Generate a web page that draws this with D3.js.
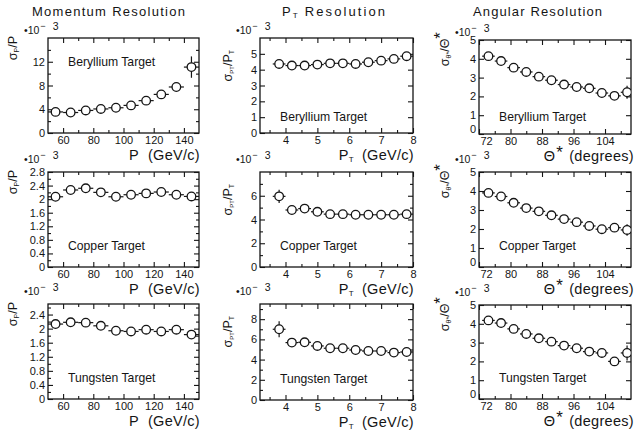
<!DOCTYPE html>
<html>
<head>
<meta charset="utf-8">
<script src="https://cdn.jsdelivr.net/npm/d3@7"></script>
<style>
  body { margin: 0; background: #fff; }
  svg { font-family: "Liberation Sans", Arial, sans-serif; }
</style>
</head>
<body>
<svg id="chart" width="640" height="433"></svg>
<script>
// bin centres
const momentumBins = [55, 65, 75, 85, 95, 105, 115, 125, 135, 145];
const ptBins = [3.8, 4.2, 4.6, 5.0, 5.4, 5.8, 6.2, 6.6, 7.0, 7.4, 7.8];
const angleBins = [74.4, 77.6, 80.8, 84.0, 87.2, 90.4, 93.6, 96.8, 100.0, 103.2, 106.4, 109.6];

// resolutions (x 10^-3) and vertical errors
const momentumBe = [3.55, 3.45, 3.8, 4.05, 4.25, 4.65, 5.45, 6.5, 7.75, 11.1];
const momentumBeErr = [0.3, 0.3, 0.3, 0.3, 0.3, 0.35, 0.4, 0.5, 0.6, 1.8];
const momentumCu = [2.07, 2.27, 2.32, 2.2, 2.07, 2.13, 2.17, 2.21, 2.13, 2.08];
const momentumCuErr = [0.04, 0.04, 0.04, 0.04, 0.04, 0.04, 0.04, 0.04, 0.04, 0.04];
const momentumW = [2.13, 2.18, 2.17, 2.08, 1.94, 1.92, 1.97, 1.92, 1.97, 1.83];
const momentumWErr = [0.04, 0.04, 0.04, 0.04, 0.04, 0.04, 0.04, 0.04, 0.04, 0.05];

const ptBe = [4.36, 4.26, 4.26, 4.32, 4.4, 4.4, 4.36, 4.47, 4.57, 4.68, 4.85];
const ptBeErr = [0.1, 0.1, 0.1, 0.1, 0.1, 0.1, 0.1, 0.1, 0.1, 0.1, 0.12];
const ptCu = [5.95, 4.8, 4.92, 4.65, 4.45, 4.45, 4.4, 4.4, 4.4, 4.4, 4.45];
const ptCuErr = [0.55, 0.12, 0.12, 0.1, 0.1, 0.1, 0.1, 0.1, 0.1, 0.1, 0.12];
const ptW = [7.0, 5.68, 5.71, 5.35, 5.12, 5.12, 4.95, 4.85, 4.85, 4.69, 4.75];
const ptWErr = [0.8, 0.15, 0.15, 0.12, 0.12, 0.12, 0.12, 0.12, 0.12, 0.12, 0.15];

const angleBe = [4.14, 3.88, 3.53, 3.3, 3.05, 2.86, 2.63, 2.5, 2.43, 2.18, 2.03, 2.22];
const angleBeErr = [0.08, 0.08, 0.08, 0.08, 0.08, 0.08, 0.08, 0.08, 0.08, 0.08, 0.1, 0.35];
const angleCu = [3.9, 3.71, 3.38, 3.1, 2.93, 2.72, 2.52, 2.36, 2.16, 1.99, 2.07, 1.95];
const angleCuErr = [0.08, 0.08, 0.08, 0.08, 0.08, 0.08, 0.08, 0.08, 0.08, 0.08, 0.12, 0.3];
const angleW = [4.18, 4.04, 3.73, 3.46, 3.23, 3.05, 2.84, 2.7, 2.52, 2.45, 2.0, 2.45];
const angleWErr = [0.08, 0.08, 0.08, 0.08, 0.08, 0.08, 0.08, 0.08, 0.08, 0.08, 0.1, 0.4];

// half bin widths
const binHalfWidth = [5, 0.2, 1.6];

// tick labels
const momentumTicks = [60, 80, 100, 120, 140];
const momentumMinor = [70, 90, 110, 130];
const ptTicks = [4, 5, 6, 7, 8];
const ptMinor = [3.5, 4.5, 5.5, 6.5, 7.5];
const angleTicks = [72, 80, 88, 96, 104];
const angleMinor = [76, 84, 92, 100, 108];

const targets = ["Beryllium Target", "Copper Target", "Tungsten Target"];
const columnTitles = ["Momentum Resolution", "P_T Resolution", "Angular Resolution"];

// panels, row by row
const panels = [
  { col: 0, values: momentumBe, errors: momentumBeErr, yMax: 16, yTicks: [0, 4, 8, 12], yMinor: [2, 6, 10, 14], labelY: 0.75 },
  { col: 1, values: ptBe, errors: ptBeErr, yMax: 6, yTicks: [0, 1, 2, 3, 4, 5], yMinor: [], labelY: 0.17 },
  { col: 2, values: angleBe, errors: angleBeErr, yMax: 5, yTicks: [0, 1, 2, 3, 4, 5], yMinor: [], labelY: 0.18 },
  { col: 0, values: momentumCu, errors: momentumCuErr, yMax: 2.8, yTicks: [0, 0.4, 0.8, 1.2, 1.6, 2, 2.4, 2.8], yMinor: [0.2, 0.6, 1.0, 1.4, 1.8, 2.2, 2.6], labelY: 0.22 },
  { col: 1, values: ptCu, errors: ptCuErr, yMax: 8, yTicks: [0, 2, 4, 6], yMinor: [1, 3, 5, 7], labelY: 0.22 },
  { col: 2, values: angleCu, errors: angleCuErr, yMax: 5, yTicks: [0, 1, 2, 3, 4, 5], yMinor: [], labelY: 0.22 },
  { col: 0, values: momentumW, errors: momentumWErr, yMax: 2.7, yTicks: [0, 0.4, 0.8, 1.2, 1.6, 2, 2.4], yMinor: [0.2, 0.6, 1.0, 1.4, 1.8, 2.2, 2.6], labelY: 0.22 },
  { col: 1, values: ptW, errors: ptWErr, yMax: 9.5, yTicks: [0, 2, 4, 6, 8], yMinor: [1, 3, 5, 7, 9], labelY: 0.22 },
  { col: 2, values: angleW, errors: angleWErr, yMax: 5, yTicks: [0, 1, 2, 3, 4, 5], yMinor: [], labelY: 0.22 },
];

const colBins = [momentumBins, ptBins, angleBins];
const colXDomain = [[50, 150], [3.2, 8], [72, 110.6]];
const colTicks = [momentumTicks, ptTicks, angleTicks];
const colMinor = [momentumMinor, ptMinor, angleMinor];

// layout
const colLeft = [48, 260, 479];
const colRight = [199, 413, 631];
const boxTop = [[38, 38, 40], [172, 172, 172], [304, 304, 305]];
const boxBottom = [[133, 133, 134], [267, 267, 267], [399, 400, 399]];
const factorLift = [4, 9, 9];
const titleX = [32, 282, 473];
const titleW = [153, 103, 129];
const ink = "#151515";

const svg = d3.select("#chart");

function yFormat(d) {
  if (d === 0) return "0";
  return Number.isInteger(d) ? String(d) : d.toFixed(1);
}

function ticks(g, axis, tx, ty, size, values, withLabels) {
  const a = g.append("g")
    .attr("transform", `translate(${tx},${ty})`)
    .call(axis.tickValues(values).tickSize(-size).tickPadding(3));
  a.select(".domain").remove();
  a.attr("font-family", null).attr("font-size", 11);
  a.selectAll("line").attr("stroke", ink).attr("stroke-width", 1.1);
  if (withLabels) a.selectAll("text").attr("fill", ink);
  else a.selectAll("text").remove();
  return a;
}

// column titles
columnTitles.forEach((t, c) => {
  const txt = svg.append("text")
    .attr("x", titleX[c]).attr("y", 16)
    .attr("font-size", 13)
    .attr("textLength", titleW[c])
    .attr("lengthAdjust", "spacing")
    .attr("fill", ink);
  if (c === 1) {
    txt.append("tspan").text("P");
    txt.append("tspan").attr("font-size", 8).attr("dy", 2).text("T");
    txt.append("tspan").attr("dy", -2).attr("dx", 5).text("Resolution");
  } else {
    txt.text(t);
  }
});

panels.forEach((p, i) => {
  const row = Math.floor(i / 3);
  const c = p.col;
  const left = colLeft[c], right = colRight[c];
  const top = boxTop[row][c], bottom = boxBottom[row][c];
  const x = d3.scaleLinear().domain(colXDomain[c]).range([left, right]);
  const y = d3.scaleLinear().domain([0, p.yMax]).range([bottom, top]);
  const g = svg.append("g");

  // ticks on all four sides, pointing inward
  const bx = ticks(g, d3.axisBottom(x).tickFormat(d => d), 0, bottom, 5, colTicks[c], true);
  if (c === 2) bx.selectAll("text").filter(d => d === 72).attr("dx", 7);
  ticks(g, d3.axisBottom(x), 0, bottom, 3, colMinor[c], false);
  ticks(g, d3.axisTop(x), 0, top, 5, colTicks[c], false);
  ticks(g, d3.axisTop(x), 0, top, 3, colMinor[c], false);
  const ly = ticks(g, d3.axisLeft(y).tickFormat(yFormat), left, 0, 5, p.yTicks, true);
  if (c === 2) ly.selectAll("text").filter(d => d === 0).attr("dy", "-0.1em");
  ticks(g, d3.axisLeft(y), left, 0, 3, p.yMinor, false);
  ticks(g, d3.axisRight(y), right, 0, 5, p.yTicks, false);
  ticks(g, d3.axisRight(y), right, 0, 3, p.yMinor, false);

  g.append("rect")
    .attr("x", left).attr("y", top)
    .attr("width", right - left).attr("height", bottom - top)
    .attr("fill", "none").attr("stroke", ink).attr("stroke-width", 1.3);

  // data
  const clipId = "clip" + i;
  svg.append("clipPath").attr("id", clipId)
    .append("rect").attr("x", left).attr("y", top)
    .attr("width", right - left).attr("height", bottom - top);
  const pts = colBins[c].map((b, k) => ({ x: b, v: p.values[k], e: p.errors[k] }));
  const hw = binHalfWidth[c];
  const d = g.append("g").attr("clip-path", `url(#${clipId})`);
  d.selectAll(".hbar").data(pts).join("line")
    .attr("x1", q => x(q.x - hw)).attr("x2", q => x(q.x + hw))
    .attr("y1", q => y(q.v)).attr("y2", q => y(q.v))
    .attr("stroke", ink).attr("stroke-width", 1.2);
  d.selectAll(".vbar").data(pts).join("line")
    .attr("x1", q => x(q.x)).attr("x2", q => x(q.x))
    .attr("y1", q => y(q.v - q.e)).attr("y2", q => y(q.v + q.e))
    .attr("stroke", ink).attr("stroke-width", 1.2);
  d.selectAll("circle").data(pts).join("circle")
    .attr("cx", q => x(q.x)).attr("cy", q => y(q.v)).attr("r", 4.3)
    .attr("fill", "#fff").attr("stroke", ink).attr("stroke-width", 1.3);

  // target label
  g.append("text")
    .attr("x", left + 20).attr("y", y(p.yMax * p.labelY) + 4)
    .attr("font-size", 12.2).attr("fill", ink)
    .text(targets[row]);

  // x10^-3 factor
  const ex = g.append("text")
    .attr("x", left - 24).attr("y", top - factorLift[row])
    .attr("font-size", 10.5).attr("fill", ink);
  ex.append("tspan").text("•10");
  ex.append("tspan").attr("dy", -5).attr("dx", 1).attr("font-size", 9).text("−");
  ex.append("tspan").attr("dx", 7).attr("dy", 1).attr("font-size", 10.5).text("3");

  // x axis title
  const xt = g.append("text")
    .attr("x", right + (c === 2 ? 3 : 1)).attr("y", bottom + 27)
    .attr("text-anchor", "end").attr("font-size", 14.5)
    .attr("letter-spacing", 0.3).attr("fill", ink);
  if (c === 0) {
    xt.append("tspan").text("P");
    xt.append("tspan").attr("dx", 9).text("(GeV/c)");
  } else if (c === 1) {
    xt.append("tspan").text("P");
    xt.append("tspan").attr("font-size", 8).attr("dy", 2).text("T");
    xt.append("tspan").attr("dy", -2).attr("dx", 8).text("(GeV/c)");
  } else {
    xt.append("tspan").text("Θ");
    xt.append("tspan").attr("font-size", 17).attr("dy", -3).attr("dx", 1).text("*");
    xt.append("tspan").attr("dy", 3).attr("dx", 6).text("(degrees)");
  }

  // y axis title, rotated
  const yx = [left - 31, left - 28, left - 30][c];
  const yTop = [top - 2, top + 12, top - 8][c];
  const yt = g.append("text")
    .attr("transform", `translate(${yx},${yTop}) rotate(-90)`)
    .attr("text-anchor", "end").attr("font-size", 12.5).attr("fill", ink);
  if (c === 0) {
    yt.append("tspan").text("σ");
    yt.append("tspan").attr("font-size", 7).attr("dy", 2).text("P");
    yt.append("tspan").attr("dy", -2).text("/P");
  } else if (c === 1) {
    yt.append("tspan").text("σ");
    yt.append("tspan").attr("font-size", 6).attr("dy", 2).text("PT");
    yt.append("tspan").attr("dy", -2).text("/P");
    yt.append("tspan").attr("font-size", 7).attr("dy", 2).text("T");
  } else {
    yt.append("tspan").text("σ");
    yt.append("tspan").attr("font-size", 7).attr("dy", 2).text("θ*");
    yt.append("tspan").attr("dy", -2).text("/Θ");
    yt.append("tspan").attr("font-size", 17).attr("dy", -3).text("*");
  }
});
</script>
</body>
</html>
